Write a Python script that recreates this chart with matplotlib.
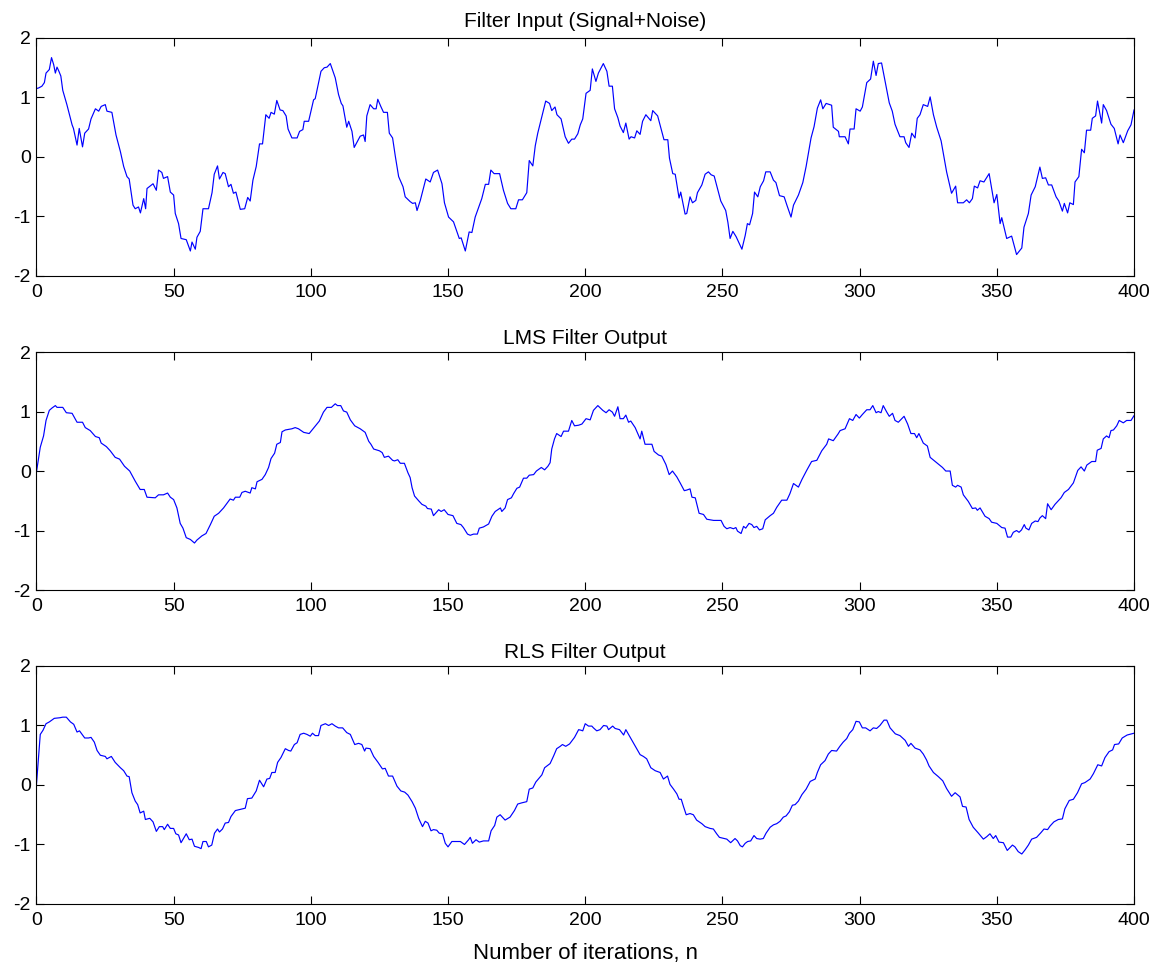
import matplotlib
matplotlib.use("Agg")
import matplotlib.pyplot as plt

# ---------------- data ----------------
n_input = [0, 0.8, 2, 2.9, 3.5, 4.7, 5.5, 6.3, 6.9, 7.5, 8.2, 8.9, 9.6, 11.1, 13, 13.5, 14.8, 15.6, 16.8, 17.6,
           19, 19.9, 21.5, 22.7, 23.6, 25.1, 25.7, 27.5, 29, 30.6, 31.8, 33, 33.8, 35.2, 36, 37.2, 37.9, 39.1, 39.8,
           40.3, 42.5, 43.7, 44.5, 45.7, 46.3, 47.8, 48.8, 50, 50.6, 51.8, 52.7, 54.6, 56.1, 56.7, 57.9, 58.5, 59.7,
           60.7, 62.7, 64, 64.8, 66, 66.7, 68, 68.8, 70, 70.9, 71.8, 72.7, 74.3, 75.9, 77, 77.9, 78.9, 80.1, 81.3,
           82.4, 83.6, 84.8, 85.5, 86.7, 87.6, 88.8, 89.8, 91, 91.7, 93.1, 95, 95.9, 97.1, 97.6, 99.2, 101, 101.6,
           103.7, 104.9, 105.9, 107.1, 108.9, 110.1, 111.1, 111.7, 113.1, 113.8, 115, 115.8, 118, 119.2, 119.8, 120.4,
           121.6, 122.9, 123.8, 124.4, 125.5, 126.5, 127.9, 128.6, 129.8, 130.8, 132, 133.6, 134.4, 136.2, 137.1,
           138.1, 138.7, 139.9, 141.9, 143.5, 144.7, 146.2, 147.8, 148.7, 150.2, 152, 154.1, 154.8, 156.3, 157.7,
           158.7, 159.9, 162.3, 163.6, 164.8, 165.6, 166.8, 168.8, 170.2, 171.7, 172.9, 174.7, 175.7, 177.1, 178.7,
           179.6, 180.9, 181.8, 182.7, 184.2, 185.6, 187, 187.8, 189, 189.7, 191.2, 192.7, 193.9, 195.1, 196.1, 197.3,
           198.2, 199.1, 200.3, 201.8, 202.6, 203.9, 204.8, 206.6, 207.9, 208.7, 209.9, 210.7, 211.9, 212.7, 213.9,
           214.8, 216, 216.7, 218, 218.8, 220, 220.9, 222.1, 223.9, 224.6, 226.4, 228.7, 230.1, 230.7, 231.9, 232.8,
           234.2, 234.8, 236.4, 237, 238.2, 239.1, 240.3, 240.9, 242.5, 243.7, 244.9, 245.9, 247, 248.6, 249.4, 251.2,
           252, 252.8, 253.8, 255, 256.1, 257.1, 258.3, 259.1, 259.9, 261, 261.7, 262.9, 263.8, 265, 265.8, 267.4,
           268.6, 269.5, 270.8, 272.5, 273.5, 275, 275.9, 277.7, 279.3, 280.5, 282.3, 283.4, 284.6, 285.8, 286.6,
           287.8, 289.8, 290.4, 292.3, 292.6, 294.7, 295.9, 296.5, 298, 298.7, 300.2, 301, 302.6, 304, 305, 306,
           306.8, 308, 309.5, 310.8, 311.9, 312.9, 314.7, 316.2, 316.8, 318, 319, 320.2, 321, 322, 323.2, 324.8,
           325.7, 326.9, 328.1, 329.7, 331.7, 333.5, 335, 335.7, 337.8, 339, 340, 341.1, 341.8, 343, 343.9, 345.3,
           347.2, 349, 350, 351.2, 351.8, 353.6, 355.4, 357.2, 359.1, 359.9, 361.5, 362.5, 364, 365.7, 366.6, 367.8,
           368.8, 370, 371.6, 372.6, 373.9, 374.6, 375.8, 376.6, 377.9, 378.5, 379.9, 380.9, 381.9, 382.7, 384.2,
           384.8, 386, 386.7, 388.2, 388.8, 390, 391.6, 392.8, 394.2, 394.9, 396.1, 397.7, 398.9, 400]
y_input = [1.15, 1.16, 1.19, 1.25, 1.41, 1.47, 1.67, 1.55, 1.41, 1.51, 1.44, 1.36, 1.12, 0.88, 0.54, 0.48, 0.20, 0.48,
           0.17, 0.40, 0.47, 0.64, 0.81, 0.77, 0.85, 0.88, 0.77, 0.75, 0.37, 0.09, -0.16, -0.33, -0.37, -0.81, -0.87,
           -0.84, -0.94, -0.70, -0.87, -0.53, -0.45, -0.56, -0.22, -0.26, -0.36, -0.33, -0.59, -0.64, -0.95, -1.12,
           -1.37, -1.39, -1.58, -1.43, -1.55, -1.35, -1.25, -0.87, -0.87, -0.60, -0.29, -0.15, -0.37, -0.26, -0.28,
           -0.50, -0.46, -0.61, -0.59, -0.88, -0.87, -0.68, -0.74, -0.39, -0.16, 0.22, 0.22, 0.71, 0.65, 0.75, 0.72,
           0.95, 0.79, 0.78, 0.69, 0.47, 0.32, 0.32, 0.43, 0.46, 0.60, 0.60, 0.96, 0.98, 1.44, 1.50, 1.51, 1.57, 1.33,
           1.05, 0.90, 0.86, 0.50, 0.60, 0.43, 0.16, 0.35, 0.37, 0.26, 0.69, 0.88, 0.81, 0.81, 0.97, 0.85, 0.75, 0.75,
           0.40, 0.32, 0.01, -0.33, -0.50, -0.67, -0.75, -0.78, -0.77, -0.90, -0.73, -0.37, -0.42, -0.26, -0.22,
           -0.45, -0.77, -1.01, -1.09, -1.37, -1.36, -1.58, -1.26, -1.27, -1.01, -0.70, -0.46, -0.46, -0.22, -0.28,
           -0.28, -0.56, -0.78, -0.87, -0.87, -0.72, -0.72, -0.60, -0.06, -0.15, 0.19, 0.40, 0.68, 0.94, 0.90, 0.78,
           0.84, 0.71, 0.64, 0.34, 0.23, 0.30, 0.30, 0.39, 0.54, 0.64, 1.07, 1.12, 1.48, 1.27, 1.41, 1.57, 1.44, 1.19,
           1.19, 0.81, 0.66, 0.52, 0.41, 0.57, 0.30, 0.34, 0.32, 0.44, 0.38, 0.60, 0.71, 0.61, 0.78, 0.69, 0.29, 0.29,
           -0.02, -0.28, -0.29, -0.69, -0.59, -0.96, -0.95, -0.67, -0.77, -0.73, -0.60, -0.47, -0.29, -0.25, -0.30,
           -0.32, -0.60, -0.74, -0.90, -1.10, -1.37, -1.25, -1.34, -1.45, -1.55, -1.32, -1.12, -1.14, -0.95, -0.59,
           -0.67, -0.50, -0.40, -0.25, -0.25, -0.39, -0.43, -0.65, -0.67, -0.81, -1.01, -0.81, -0.64, -0.43, -0.16,
           0.32, 0.51, 0.82, 0.96, 0.81, 0.90, 0.87, 0.50, 0.43, 0.34, 0.34, 0.22, 0.47, 0.47, 0.81, 0.77, 0.84, 1.25,
           1.31, 1.61, 1.37, 1.57, 1.58, 1.22, 0.91, 0.77, 0.55, 0.34, 0.34, 0.24, 0.16, 0.40, 0.32, 0.65, 0.71, 0.88,
           0.85, 1.01, 0.71, 0.50, 0.27, -0.25, -0.61, -0.49, -0.77, -0.77, -0.72, -0.77, -0.70, -0.49, -0.52, -0.40,
           -0.42, -0.28, -0.77, -0.63, -1.12, -1.02, -1.37, -1.33, -1.64, -1.53, -1.18, -0.95, -0.64, -0.50, -0.17,
           -0.36, -0.35, -0.47, -0.47, -0.67, -0.74, -0.91, -0.78, -0.94, -0.77, -0.80, -0.42, -0.33, 0.13, 0.07,
           0.45, 0.45, 0.65, 0.69, 0.94, 0.57, 0.88, 0.78, 0.55, 0.48, 0.22, 0.37, 0.24, 0.44, 0.54, 0.79]

n_lms = [0, 1.4, 2.6, 3.5, 4.7, 5.7, 6.9, 7.5, 9.6, 10.9, 13, 14.8, 16.8, 17.8, 19.6, 21.5, 22.9, 23.6, 25.5, 26.9,
         28.7, 30.3, 32.1, 34, 36, 37.8, 39.3, 40.3, 43.3, 44.5, 46.3, 47.8, 48.8, 50, 51.2, 52.4, 53.4, 54.6, 56.1,
         57.6, 58.5, 60.3, 61.8, 63.4, 64.8, 66.4, 68.2, 70.6, 71.8, 72.5, 74.1, 74.9, 76.1, 77.9, 78.5, 79.8, 80.4,
         82.2, 83.4, 84.6, 85.5, 86.8, 87.6, 88.9, 89.5, 90.7, 93.1, 94.3, 95.5, 97.4, 99.4, 101, 103.1, 104.6,
         105.9, 107.5, 108.9, 109.7, 110.9, 111.9, 113.1, 114.4, 116, 118, 119.8, 121.1, 121.9, 122.9, 125, 126,
         126.8, 128.3, 129.8, 130.5, 131.7, 132.6, 134.1, 135.4, 136.2, 136.9, 137.8, 139.3, 140.5, 141.9, 142.5,
         143.9, 144.7, 146.6, 147.5, 148.6, 150, 151.8, 153.2, 154.7, 155.6, 157.1, 158.1, 159.3, 160.7, 161.4,
         162.9, 164.8, 166, 167.2, 169.1, 169.6, 170.8, 171.7, 173.1, 173.9, 175.1, 176.1, 177.5, 178.7, 179.6,
         181.2, 182.2, 184, 185.2, 186.4, 187.2, 187.8, 188.8, 189.6, 191.2, 192.1, 193.9, 195.1, 196.1, 197.6,
         198.8, 200.3, 201.8, 203, 204.6, 206.4, 207.6, 208.7, 209.9, 210.7, 211.9, 212.7, 213.9, 214.8, 215.8,
         216.6, 218.2, 220, 220.6, 221.8, 223.1, 224.3, 225.1, 226.7, 227.9, 229.4, 230.6, 231.8, 233.4, 234.6,
         236.1, 237, 238.2, 238.9, 240.1, 241.5, 243.1, 244.3, 245.6, 246.8, 249.5, 250.6, 251.6, 252.8, 254, 254.9,
         255.5, 256.8, 257.7, 258.5, 259.7, 260.7, 261.5, 262.5, 263.5, 264.7, 265.6, 267.4, 268.6, 269.8, 271.6,
         273.5, 274.6, 275.9, 277.7, 279, 280.7, 282.5, 284.4, 286.2, 288, 288.7, 290.4, 292.1, 292.9, 294.7, 296.3,
         297.5, 298.7, 299.9, 301, 302.6, 303.8, 304.8, 306, 306.8, 307.8, 308.6, 309.9, 310.8, 312, 312.9, 314.1,
         316.2, 317.5, 318.7, 320, 320.8, 321.6, 323.2, 324.7, 325.7, 328.1, 330.2, 331.4, 333, 333.8, 335, 335.7,
         337, 337.8, 339.6, 341.1, 342.3, 342.9, 343.9, 345.7, 347.2, 348.1, 350, 351.8, 353, 353.9, 355.1, 356,
         357.2, 358.1, 359, 360, 360.6, 361.7, 362.7, 364, 365, 365.7, 366.6, 367.8, 368.5, 369.8, 371.2, 373.4,
         374.6, 376.1, 377.9, 379.5, 380.7, 381.9, 382.8, 384.6, 386, 386.6, 388, 388.8, 390, 390.9, 391.6, 392.5,
         393.7, 394.6, 396.1, 397.3, 398.9, 400]
y_lms = [-0.02, 0.40, 0.59, 0.85, 1.02, 1.06, 1.10, 1.07, 1.07, 0.98, 0.97, 0.82, 0.82, 0.73, 0.68, 0.58, 0.56, 0.47,
         0.41, 0.34, 0.23, 0.20, 0.08, 0.0, -0.17, -0.31, -0.31, -0.44, -0.45, -0.40, -0.40, -0.37, -0.44, -0.48,
         -0.62, -0.88, -0.96, -1.12, -1.15, -1.21, -1.16, -1.09, -1.05, -0.90, -0.76, -0.71, -0.62, -0.47, -0.49,
         -0.44, -0.44, -0.36, -0.34, -0.37, -0.28, -0.30, -0.18, -0.14, -0.06, 0.06, 0.21, 0.30, 0.45, 0.48, 0.66,
         0.69, 0.71, 0.73, 0.71, 0.65, 0.63, 0.72, 0.84, 0.99, 1.07, 1.07, 1.13, 1.10, 1.10, 1.01, 0.99, 0.86, 0.76,
         0.71, 0.65, 0.50, 0.45, 0.37, 0.34, 0.31, 0.23, 0.25, 0.18, 0.17, 0.19, 0.13, 0.13, -0.03, -0.11, -0.28,
         -0.42, -0.50, -0.56, -0.59, -0.63, -0.64, -0.75, -0.65, -0.68, -0.65, -0.73, -0.75, -0.88, -0.90, -0.95,
         -1.06, -1.08, -1.06, -1.06, -0.96, -0.94, -0.89, -0.76, -0.68, -0.62, -0.68, -0.62, -0.48, -0.45, -0.38,
         -0.29, -0.27, -0.12, -0.12, -0.07, -0.06, 0.00, 0.06, 0.02, 0.08, 0.14, 0.37, 0.54, 0.63, 0.58, 0.67, 0.67,
         0.85, 0.76, 0.77, 0.79, 0.88, 0.86, 1.02, 1.10, 1.02, 0.98, 1.03, 0.99, 0.92, 1.08, 0.88, 0.88, 0.94, 0.82,
         0.84, 0.73, 0.54, 0.67, 0.45, 0.45, 0.45, 0.33, 0.27, 0.25, 0.11, -0.06, 0.0, -0.10, -0.20, -0.33, -0.32,
         -0.30, -0.44, -0.45, -0.71, -0.73, -0.81, -0.82, -0.83, -0.83, -0.93, -0.97, -0.95, -0.97, -0.95, -1.01,
         -1.05, -0.93, -0.96, -0.88, -0.90, -0.95, -0.93, -0.99, -0.97, -0.82, -0.75, -0.71, -0.61, -0.49, -0.49,
         -0.38, -0.21, -0.27, -0.14, 0.01, 0.16, 0.18, 0.34, 0.45, 0.54, 0.51, 0.62, 0.68, 0.71, 0.88, 0.85, 0.95,
         0.89, 0.95, 1.03, 1.03, 1.10, 0.98, 1.00, 0.98, 1.10, 0.99, 0.92, 0.97, 0.85, 0.82, 0.92, 0.79, 0.63, 0.63,
         0.56, 0.63, 0.47, 0.42, 0.23, 0.14, 0.06, 0.0, 0.0, -0.24, -0.27, -0.24, -0.27, -0.40, -0.51, -0.63, -0.62,
         -0.66, -0.62, -0.76, -0.80, -0.86, -0.88, -0.95, -0.96, -1.11, -1.11, -1.03, -1.00, -1.03, -0.99, -0.90,
         -0.96, -0.99, -0.88, -0.84, -0.85, -0.79, -0.75, -0.80, -0.55, -0.65, -0.56, -0.45, -0.36, -0.31, -0.20,
         0.01, 0.07, 0.0, 0.10, 0.16, 0.16, 0.35, 0.38, 0.54, 0.59, 0.56, 0.68, 0.69, 0.76, 0.85, 0.81, 0.85, 0.85,
         0.93]

n_rls = [0, 1.4, 2.4, 3.5, 4.7, 6.5, 8.5, 9.6, 10.9, 12.4, 13.6, 14.8, 15.7, 17.6, 19, 19.9, 21.1, 22.1, 23.3,
         25.1, 25.7, 27.3, 28.7, 30.6, 31.8, 33, 33.8, 34.8, 36, 36.9, 37.8, 39.1, 39.7, 41.3, 42.5, 43.7, 44.8, 46,
         46.6, 47.8, 48.8, 50, 50.8, 51.8, 52.7, 53.6, 54.6, 55.7, 56.7, 57.6, 59.1, 60, 60.7, 61.9, 62.7, 63.9,
         64.9, 66, 66.7, 67.8, 68.8, 70, 70.9, 72.5, 74.3, 76.1, 76.9, 78.5, 80.1, 81.3, 82.8, 84, 85, 85.8, 87,
         87.9, 89.1, 90.7, 91.9, 92.7, 94, 95, 96.1, 97.4, 98.6, 99.8, 100.6, 101.6, 102.8, 103.7, 105.3, 106.5,
         107.7, 108.9, 110.1, 111.6, 113.1, 114.4, 116, 117.4, 118.6, 119.6, 120.1, 121.6, 122.9, 124.5, 126.1,
         127.1, 128.3, 129.8, 131.4, 132.8, 134.2, 135.4, 136.9, 138.1, 139.3, 140.7, 141.7, 142.7, 143.8, 144.7,
         145.9, 146.8, 148, 149, 150, 151.4, 154.5, 156, 157.5, 158.1, 158.9, 160.2, 161.4, 162.9, 164.8, 165.7,
         167, 167.8, 169, 170.8, 172.6, 174.2, 175.4, 176.9, 178.7, 179.6, 180.9, 182, 182.9, 184.2, 185.2, 187.2,
         188.5, 189.6, 190.9, 191.7, 192.9, 194.3, 196.1, 197.6, 198.5, 199.1, 200, 201.2, 202.4, 203, 204.2,
         205.4, 206.7, 207.9, 208.5, 210, 210.9, 212.5, 214, 214.8, 216.4, 218.2, 220, 221.2, 222.4, 223.9, 225.5,
         227.3, 228.5, 230, 230.9, 232.2, 233.4, 234.2, 235, 235.8, 236.8, 238.2, 239.4, 240.6, 242.5, 243.7,
         245.5, 246.7, 247.9, 248.9, 250.6, 251.6, 253, 254.6, 255.5, 256.5, 257.3, 258.3, 259.2, 260.3, 261.5,
         262.5, 263.7, 264.9, 265.9, 267.4, 268.6, 269.8, 271, 272.2, 273.2, 274.4, 275.5, 276.5, 277.7, 279,
         280.5, 282, 283.8, 284.6, 285.8, 287.4, 288.6, 289.8, 291.6, 292.8, 294, 295.3, 296.3, 297.5, 298.7,
         299.9, 301, 302.2, 303.8, 305, 306.2, 307.4, 308.9, 309.9, 311.1, 313, 314.7, 316.6, 317.8, 318.7, 320.2,
         322, 323.2, 324.4, 325.3, 326.9, 328.7, 330.3, 331.7, 333.5, 334.8, 336.6, 337.5, 338.8, 339.9, 341.4,
         343.3, 345.1, 346.3, 347.5, 348.7, 349.6, 350.8, 352.4, 353.8, 355.7, 356.6, 357.8, 359.1, 360.3, 361.5,
         362.7, 364.5, 366.1, 367.2, 368.5, 369.4, 370.8, 372.4, 373.9, 374.8, 376.4, 377.9, 379.4, 380.9, 382.1,
         384, 385.2, 386.8, 388.2, 389.4, 390.9, 392.2, 392.9, 394.4, 395.7, 397.5, 400]
y_rls = [0.0, 0.85, 0.92, 1.03, 1.06, 1.12, 1.13, 1.14, 1.14, 1.06, 1.02, 0.89, 0.91, 0.79, 0.79, 0.80, 0.72, 0.58,
         0.50, 0.48, 0.44, 0.48, 0.38, 0.29, 0.24, 0.15, 0.14, -0.13, -0.27, -0.33, -0.47, -0.44, -0.58, -0.56,
         -0.62, -0.78, -0.70, -0.70, -0.75, -0.66, -0.73, -0.73, -0.82, -0.84, -0.97, -0.90, -0.82, -0.92, -0.91,
         -1.03, -1.05, -1.07, -0.95, -0.95, -1.04, -1.01, -0.81, -0.74, -0.79, -0.74, -0.64, -0.63, -0.53, -0.43,
         -0.41, -0.39, -0.23, -0.22, -0.10, 0.08, -0.03, 0.10, 0.11, 0.21, 0.21, 0.38, 0.46, 0.61, 0.58, 0.57, 0.68,
         0.71, 0.85, 0.87, 0.85, 0.82, 0.87, 0.83, 0.83, 1.00, 1.03, 1.00, 1.03, 0.99, 0.96, 0.96, 0.88, 0.85, 0.68,
         0.70, 0.68, 0.57, 0.62, 0.61, 0.48, 0.38, 0.27, 0.28, 0.15, 0.15, -0.02, -0.10, -0.12, -0.17, -0.28, -0.39,
         -0.56, -0.70, -0.61, -0.64, -0.77, -0.75, -0.76, -0.81, -0.82, -0.98, -1.04, -0.95, -0.95, -1.00, -0.92,
         -0.88, -0.98, -0.92, -0.96, -0.94, -0.94, -0.77, -0.68, -0.54, -0.50, -0.59, -0.54, -0.43, -0.32, -0.30,
         -0.28, -0.07, -0.05, 0.05, 0.10, 0.17, 0.29, 0.36, 0.49, 0.61, 0.65, 0.68, 0.65, 0.69, 0.80, 0.93, 0.92,
         0.91, 1.03, 0.99, 0.99, 0.96, 0.91, 0.93, 1.00, 0.99, 0.93, 0.99, 0.95, 0.93, 0.84, 0.93, 0.80, 0.65, 0.51,
         0.48, 0.44, 0.29, 0.24, 0.21, 0.10, 0.15, 0.01, -0.07, -0.15, -0.24, -0.24, -0.36, -0.50, -0.48, -0.50,
         -0.59, -0.65, -0.70, -0.73, -0.74, -0.82, -0.88, -0.90, -0.91, -0.97, -0.90, -0.94, -1.02, -1.04, -0.98,
         -0.95, -0.94, -0.85, -0.90, -0.91, -0.90, -0.81, -0.71, -0.67, -0.65, -0.61, -0.54, -0.52, -0.45, -0.34,
         -0.33, -0.27, -0.16, -0.07, 0.06, 0.10, 0.21, 0.34, 0.41, 0.52, 0.58, 0.57, 0.65, 0.72, 0.78, 0.87, 0.93,
         1.07, 1.06, 0.96, 0.96, 0.91, 0.96, 0.95, 1.00, 1.09, 1.09, 0.96, 0.86, 0.83, 0.75, 0.65, 0.70, 0.62, 0.59,
         0.52, 0.42, 0.32, 0.21, 0.14, 0.07, -0.06, -0.19, -0.13, -0.20, -0.36, -0.37, -0.58, -0.71, -0.81, -0.91,
         -0.87, -0.82, -0.90, -0.85, -0.96, -0.97, -1.10, -1.01, -1.04, -1.12, -1.16, -1.09, -1.01, -0.91, -0.88,
         -0.80, -0.74, -0.75, -0.69, -0.62, -0.58, -0.57, -0.40, -0.26, -0.24, -0.13, 0.02, 0.04, 0.10, 0.19, 0.34,
         0.32, 0.46, 0.56, 0.59, 0.68, 0.69, 0.79, 0.84, 0.87]

titles = ["Filter Input (Signal+Noise)", "LMS Filter Output", "RLS Filter Output"]
x_ticks = [0, 50, 100, 150, 200, 250, 300, 350, 400]
y_ticks = [-2, -1, 0, 1, 2]
x_label = "Number of iterations, n"

# ---------------- figure ----------------
plt.rcParams['font.family'] = ['Liberation Sans', 'DejaVu Sans']
plt.rcParams['axes.unicode_minus'] = False
fig = plt.figure(figsize=(11.6, 9.69), dpi=100)
tick_fs = 14
title_fs = 15
label_fs = 16

series = [(n_input, y_input), (n_lms, y_lms), (n_rls, y_rls)]
bottoms = [0.7152, 0.3911, 0.0671]
for i, ((xs, ys), title) in enumerate(zip(series, titles)):
    ax = fig.add_axes([0.0314, bottoms[i], 0.9462, 0.2456])
    ax.plot(xs, ys, color='#0000ff', lw=0.85)
    ax.set_xlim(0, 400)
    ax.set_ylim(-2, 2)
    ax.set_xticks(x_ticks)
    ax.set_yticks(y_ticks)
    ax.tick_params(direction='in', top=True, right=True, length=5.8, width=0.8,
                   labelsize=tick_fs, colors='black')
    ax.tick_params(axis='x', pad=6)
    ax.tick_params(axis='y', pad=4)
    for s in ax.spines.values():
        s.set_linewidth(0.8)
    ax.set_title(title, fontsize=title_fs, pad=8 if i == 0 else 6)
    if i == 2:
        ax.set_xlabel(x_label, fontsize=label_fs, labelpad=10)

fig.savefig("out.png", dpi=100)
